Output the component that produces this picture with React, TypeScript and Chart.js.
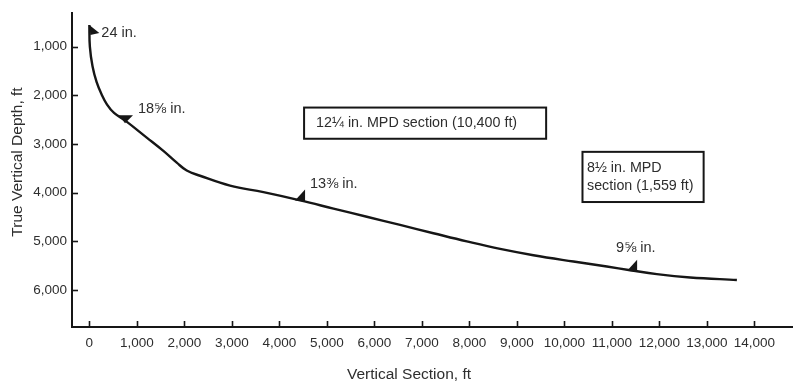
import React, { useEffect, useRef } from "react";
import { Chart, registerables } from "chart.js";

Chart.register(...registerables);

// Well trajectory: vertical section (ft) vs true vertical depth (ft)
const sectionFt = [0, 11, 67, 152, 257, 373, 520, 750, 1208, 1558, 1840, 2050, 2330, 2962, 3665, 4436, 5139, 5840, 6541, 7242, 7945, 8646, 9347, 10190, 10893, 11383, 11945, 12646, 13630];
const tvdFt = [553, 997, 1402, 1725, 1978, 2190, 2362, 2514, 2868, 3141, 3383, 3545, 3652, 3855, 3990, 4158, 4327, 4495, 4663, 4833, 5001, 5156, 5285, 5415, 5518, 5593, 5674, 5742, 5795];

const xTickValues = [0, 1000, 2000, 3000, 4000, 5000, 6000, 7000, 8000, 9000, 10000, 11000, 12000, 13000, 14000];
const yTickValues = [1000, 2000, 3000, 4000, 5000, 6000];

const xTitle = "Vertical Section, ft";
const yTitle = "True Vertical Depth, ft";

// Casing shoes
const shoeLabels = ["24 in.", "18\u215D in.", "13\u215C in.", "9\u215D in."];
const shoeSectionFt = [0, 750, 4540, 11530];
const shoeTvdFt = [553, 2514, 4160, 5605];

// MPD section boxes
const boxLines = [["12\u00BC in. MPD section (10,400 ft)"], ["8\u00BD in. MPD", "section (1,559 ft)"]];
const boxFromFt = [4520, 10380];
const boxToFt = [9615, 12930];
const boxTopTvd = [2251, 3161];
const boxBottomTvd = [2892, 4192];

const FONT = '"Liberation Sans", Arial, Helvetica, sans-serif';
const TEXT = "#2e2e2e";
const INK = "#161616";

// marker shapes (pixel offsets from anchor) and label offsets
const shoeShapes = [
  [[0, 0], [1, 10], [10, 8]],
  [[-6, -5], [8, -5], [0, 3]],
  [[-10, 0], [0, -11], [0, 1]],
  [[-10, 0], [0, -11], [0, 1]],
];
const labelOffsets = [[12, 8], [13, -11], [5, -16], [-21, -23]];

const overlay = {
  id: "overlay",
  afterDraw(chart: any) {
    const ctx = chart.ctx;
    const xs = chart.scales.x;
    const ys = chart.scales.y;
    const area = chart.chartArea;
    ctx.save();
    // inward tick marks
    ctx.strokeStyle = INK;
    ctx.lineWidth = 1.6;
    xTickValues.forEach((v) => {
      const px = Math.round(xs.getPixelForValue(v)) + 0.5;
      ctx.beginPath();
      ctx.moveTo(px, area.bottom);
      ctx.lineTo(px, area.bottom - 6);
      ctx.stroke();
    });
    yTickValues.forEach((v) => {
      const py = Math.round(ys.getPixelForValue(v)) + 0.5;
      ctx.beginPath();
      ctx.moveTo(area.left, py);
      ctx.lineTo(area.left + 6, py);
      ctx.stroke();
    });
    // axis titles
    ctx.fillStyle = TEXT;
    ctx.font = `15.5px ${FONT}`;
    ctx.textAlign = "center";
    ctx.textBaseline = "middle";
    ctx.fillText(xTitle, 409, 375);
    ctx.save();
    ctx.translate(18, 162);
    ctx.rotate(-Math.PI / 2);
    ctx.fillText(yTitle, 0, 0);
    ctx.restore();
    // casing shoe markers and labels
    shoeLabels.forEach((label, i) => {
      const ax = xs.getPixelForValue(shoeSectionFt[i]);
      const ay = ys.getPixelForValue(shoeTvdFt[i]);
      const shape = shoeShapes[i];
      ctx.fillStyle = INK;
      ctx.beginPath();
      ctx.moveTo(ax + shape[0][0], ay + shape[0][1]);
      for (let k = 1; k < shape.length; k++) ctx.lineTo(ax + shape[k][0], ay + shape[k][1]);
      ctx.closePath();
      ctx.fill();
      ctx.fillStyle = TEXT;
      ctx.font = `14.5px ${FONT}`;
      ctx.textAlign = "left";
      ctx.textBaseline = "middle";
      ctx.fillText(label, ax + labelOffsets[i][0], ay + labelOffsets[i][1]);
    });
    // section boxes
    boxLines.forEach((lines, i) => {
      const x0 = xs.getPixelForValue(boxFromFt[i]);
      const x1 = xs.getPixelForValue(boxToFt[i]);
      const y0 = ys.getPixelForValue(boxTopTvd[i]);
      const y1 = ys.getPixelForValue(boxBottomTvd[i]);
      ctx.fillStyle = "#ffffff";
      ctx.fillRect(x0, y0, x1 - x0, y1 - y0);
      ctx.strokeStyle = INK;
      ctx.lineWidth = 2;
      ctx.strokeRect(x0, y0, x1 - x0, y1 - y0);
      ctx.fillStyle = TEXT;
      ctx.font = `14.3px ${FONT}`;
      ctx.textAlign = "left";
      ctx.textBaseline = "middle";
      const lh = 18.5;
      const cy = (y0 + y1) / 2;
      const startY = cy - ((lines.length - 1) * lh) / 2;
      const padX = lines.length > 1 ? 4.5 : 12;
      lines.forEach((t, k) => ctx.fillText(t, x0 + padX, startY + k * lh));
    });
    ctx.restore();
  },
};

export default function App() {
  const ref = useRef<HTMLCanvasElement | null>(null);
  useEffect(() => {
    document.body.style.margin = "0";
    if (!ref.current) return;
    const points = sectionFt.map((x, i) => ({ x, y: tvdFt[i] }));
    const tickFont = { family: FONT, size: 13.5 };
    const chart = new Chart(ref.current, {
      type: "line",
      data: {
        datasets: [
          {
            data: points,
            borderColor: INK,
            borderWidth: 2.4,
            pointRadius: 0,
            fill: false,
            tension: 0.4,
          },
        ],
      },
      options: {
        responsive: false,
        animation: false,
        layout: { padding: { top: 8, right: 8, left: 0, bottom: 0 } },
        plugins: { legend: { display: false }, tooltip: { enabled: false } },
        scales: {
          x: {
            type: "linear",
            min: -365,
            max: 14790,
            afterBuildTicks: (axis: any) => {
              axis.ticks = xTickValues.map((value) => ({ value }));
            },
            afterFit: (axis: any) => {
              axis.height = 61;
            },
            ticks: {
              font: tickFont,
              color: TEXT,
              padding: 8,
              maxRotation: 0,
              autoSkip: false,
              callback: (v: any) => Number(v).toLocaleString("en-US"),
            },
            grid: { display: false, drawTicks: false, tickLength: 0 },
            border: { display: true, color: INK, width: 2 },
            title: { display: false },
          },
          y: {
            type: "linear",
            reverse: true,
            min: 310,
            max: 6760,
            afterBuildTicks: (axis: any) => {
              axis.ticks = yTickValues.map((value) => ({ value }));
            },
            afterFit: (axis: any) => {
              axis.width = 72;
            },
            ticks: {
              font: tickFont,
              color: TEXT,
              padding: 5,
              autoSkip: false,
              callback: (v: any) => Number(v).toLocaleString("en-US"),
            },
            grid: { display: false, drawTicks: false, tickLength: 0 },
            border: { display: true, color: INK, width: 2 },
            title: { display: false },
          },
        },
      } as any,
      plugins: [overlay],
    });
    return () => chart.destroy();
  }, []);
  return (
    <div style={{ position: "absolute", left: 0, top: 0, width: 800, height: 388, background: "#fff" }}>
      <canvas ref={ref} width={800} height={388} />
    </div>
  );
}
